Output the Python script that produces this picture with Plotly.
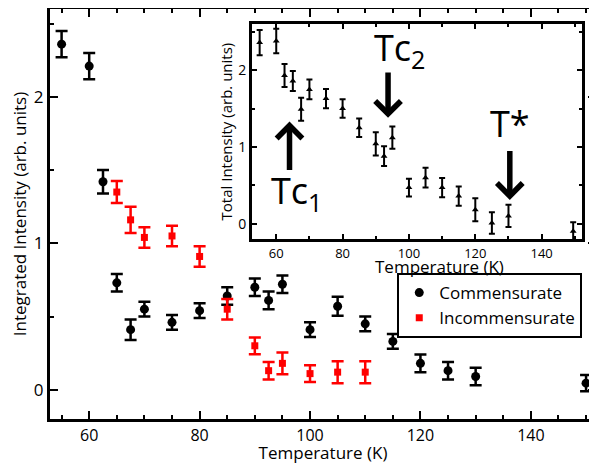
import plotly.graph_objects as go

# Main panel data
temp_c = [55, 60, 62.5, 65, 67.5, 70, 75, 80, 85, 90, 92.5, 95, 100, 105, 110, 115, 120, 125, 130, 150]
comm = [2.36, 2.21, 1.42, 0.73, 0.41, 0.55, 0.46, 0.54, 0.64, 0.70, 0.61, 0.72, 0.41, 0.57, 0.45, 0.33, 0.18, 0.13, 0.09, 0.045]
comm_err = [0.09, 0.09, 0.08, 0.06, 0.07, 0.05, 0.05, 0.05, 0.06, 0.06, 0.06, 0.06, 0.05, 0.065, 0.05, 0.05, 0.06, 0.06, 0.06, 0.055]

temp_i = [65, 67.5, 70, 75, 80, 85, 90, 92.5, 95, 100, 105, 110]
incomm = [1.35, 1.16, 1.04, 1.05, 0.91, 0.55, 0.30, 0.13, 0.18, 0.11, 0.12, 0.12]
incomm_err = [0.075, 0.09, 0.07, 0.07, 0.07, 0.07, 0.057, 0.06, 0.075, 0.057, 0.075, 0.075]

# Inset data
temp_t = [55, 60, 62.5, 65, 67.5, 70, 75, 80, 85, 90, 92.5, 95, 100, 105, 110, 115, 120, 125, 130, 149.5]
total = [2.36, 2.38, 1.93, 1.86, 1.49, 1.75, 1.63, 1.50, 1.25, 1.04, 0.88, 1.12, 0.47, 0.60, 0.47, 0.36, 0.18, 0.01, 0.10, -0.10]
total_err = [0.165, 0.16, 0.15, 0.13, 0.15, 0.13, 0.125, 0.12, 0.12, 0.15, 0.13, 0.145, 0.115, 0.13, 0.125, 0.125, 0.15, 0.14, 0.145, 0.12]

main_xticks = [60, 80, 100, 120, 140]
main_yticks = [0, 1, 2]
inset_xticks = [60, 80, 100, 120, 140]
inset_yticks = [0, 1, 2]

FONT = "Open Sans"

fig = go.Figure()

fig.add_trace(go.Scatter(
    x=temp_c, y=comm, mode="markers", name="Commensurate",
    marker=dict(symbol="circle", size=9, color="black"),
    error_y=dict(type="data", array=comm_err, color="black", thickness=2.5, width=6),
    xaxis="x", yaxis="y"))
fig.add_trace(go.Scatter(
    x=temp_i, y=incomm, mode="markers", name="Incommensurate",
    marker=dict(symbol="square", size=7, color="#ff0000"),
    error_y=dict(type="data", array=incomm_err, color="#ff0000", thickness=2.5, width=6),
    xaxis="x", yaxis="y"))
fig.add_trace(go.Scatter(
    x=temp_t, y=total, mode="markers", showlegend=False,
    marker=dict(symbol="triangle-up", size=6, color="black"),
    error_y=dict(type="data", array=total_err, color="black", thickness=2, width=3),
    xaxis="x2", yaxis="y2"))

axis_common = dict(showline=True, linecolor="black", mirror="ticks", ticks="inside",
                   tickcolor="black", showgrid=False, zeroline=False)

fig.update_layout(
    width=589, height=456,
    margin=dict(l=42, r=1, t=1, b=45, autoexpand=False),
    paper_bgcolor="white", plot_bgcolor="white",
    font=dict(family=FONT, color="black"),
    xaxis=dict(domain=[0, 1], range=[52.9, 151.8], tickvals=main_xticks,
               linewidth=3, ticklen=8, tickwidth=2,
               minor=dict(dtick=5, ticks="inside", ticklen=4, tickwidth=2, tickcolor="black"),
               tickfont=dict(size=16),
               title=dict(text="Temperature (K)", font=dict(size=17), standoff=0),
               **axis_common),
    yaxis=dict(domain=[0, 1], range=[-0.2, 2.6], tickvals=main_yticks,
               linewidth=3, ticklen=8, tickwidth=2,
               minor=dict(dtick=0.5, ticks="inside", ticklen=4, tickwidth=2, tickcolor="black"),
               tickfont=dict(size=17),
               title=dict(text="Integrated Intensity (arb. units)", font=dict(size=17), standoff=4),
               **axis_common),
    xaxis2=dict(domain=[0.370, 0.974], anchor="y2", range=[52.7, 152.1],
                tickvals=inset_xticks, linewidth=3, ticklen=5, tickwidth=2,
                minor=dict(dtick=10, ticks="inside", ticklen=3, tickwidth=2, tickcolor="black"),
                tickfont=dict(size=13),
                **axis_common),
    yaxis2=dict(domain=[0.439, 0.963], anchor="x2", range=[-0.2, 2.6],
                tickvals=inset_yticks, linewidth=3, ticklen=5, tickwidth=2,
                minor=dict(dtick=0.5, ticks="inside", ticklen=3, tickwidth=2, tickcolor="black"),
                tickfont=dict(size=14),
                title=dict(text="Total Intensity (arb. units)", font=dict(size=15), standoff=2),
                **axis_common),
    legend=dict(x=0.636, y=0.356, xanchor="left", yanchor="top",
                bordercolor="black", borderwidth=2, bgcolor="white",
                font=dict(size=17), itemsizing="trace", itemwidth=30,
                tracegroupgap=0),
    showlegend=True,
)

# Inset x-axis title (sits close under the tick labels, offset to the right)
fig.add_annotation(x=0.714, y=0.372, xref="paper", yref="paper", text="Temperature (K)",
                   showarrow=False, xanchor="center", yanchor="middle",
                   font=dict(size=17, family=FONT, color="black"))

# Inset annotations: transition labels and arrows
labels = [
    ("Tc<sub>1</sub>", 66, 0.40),
    ("Tc<sub>2</sub>", 97.2, 2.27),
    ("T*", 130.4, 1.31),
]
for txt, lx, ly in labels:
    fig.add_annotation(x=lx, y=ly, xref="x2", yref="y2", text=txt, showarrow=False,
                       font=dict(size=36, family=FONT, color="black"))

arrows = [
    (64, 1.33, 64, 0.68),
    (93.7, 1.38, 93.7, 1.99),
    (130.4, 0.31, 130.4, 0.965),
]
for hx, hy, tx, ty in arrows:
    fig.add_annotation(x=hx, y=hy, ax=tx, ay=ty, xref="x2", yref="y2", axref="x2", ayref="y2",
                       text="", showarrow=True, arrowhead=4, arrowsize=0.9, arrowwidth=5.5,
                       arrowcolor="black")

fig.write_html("out.html")
